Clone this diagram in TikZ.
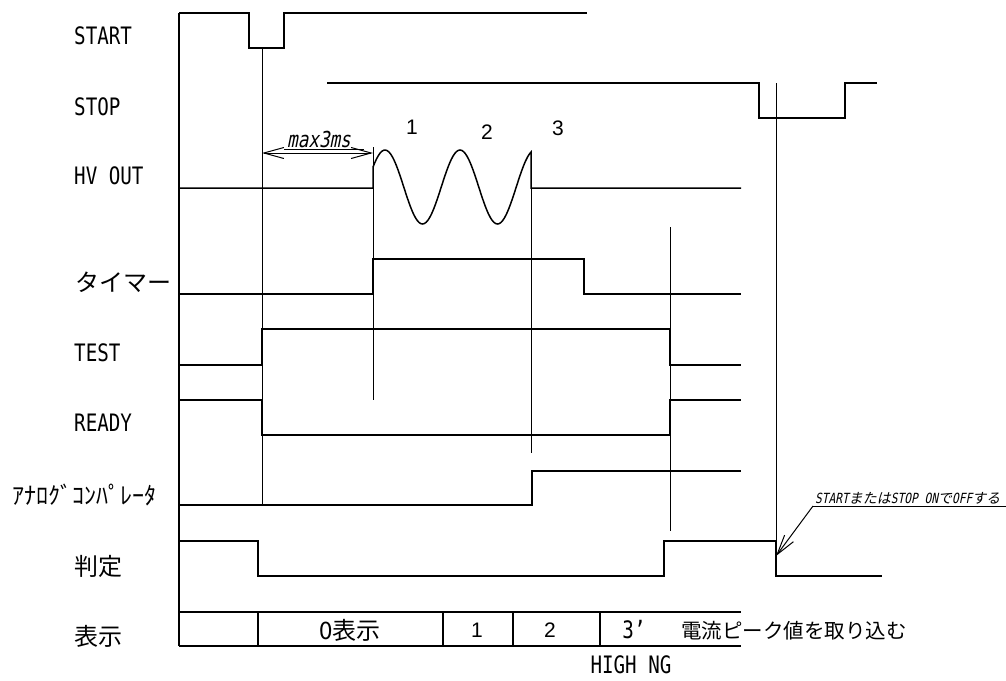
\documentclass[tikz,border=0pt]{standalone}
\usepackage{fontspec}
\setmainfont{Liberation Sans}
\newfontfamily\jpfont{Noto Sans CJK JP}
\newfontfamily\jpitfont[FakeSlant=0.2]{Noto Sans CJK JP}
\newfontfamily\gothfont[FakeStretch=0.8]{DejaVu Sans Mono}
\newfontfamily\gothitfont[FakeStretch=0.8,FakeSlant=0.2]{DejaVu Sans Mono}
\usetikzlibrary{arrows.meta}

\tikzset{
    sig/.style={line width=1.5pt, line join=miter},
    guide/.style={line width=1pt},
    barb/.style={{Straight Barb[length=20pt,width=11pt]}-{Straight Barb[length=20pt,width=11pt]}},
    lbl/.style={anchor=west, inner sep=0pt, font=\gothfont\fontsize{24}{24}\selectfont},
    jlbl/.style={anchor=west, inner sep=0pt, font=\jpfont\fontsize{24}{24}\selectfont},
    num/.style={inner sep=0pt, font=\fontsize{21}{21}\selectfont}
}

\begin{document}
\begin{tikzpicture}[x=1pt, y=-1pt]

            % the frame
            \useasboundingbox (0,0) rectangle (1006,680);

            % the names
            \node[lbl] (lblstart) at (74,36) {START};
            \node[lbl] (lblstop) at (74,107) {STOP};
            \node[lbl] (lblhv) at (74,176) {HV OUT};
            \node[jlbl] (lbltimer) at (75,282) {タイマー};
            \node[lbl] (lbltest) at (74,353) {TEST};
            \node[lbl] (lblready) at (74,423) {READY};
            \node[jlbl] (lblcomp) at (12,495) {ｱﾅﾛｸﾞｺﾝﾊﾟﾚｰﾀ};
            \node[jlbl] (lbljudge) at (74,566) {判定};
            \node[jlbl] (lbldisp) at (74,636) {表示};

            % the axis
            \draw[sig] (179,13) -- (179,646);

            % the signals
            \draw[sig] (179,13) -- (249,13) -- (249,48) -- (284,48) -- (284,13) -- (587,13);
            \draw[sig] (327,83) -- (759,83) -- (759,118) -- (845,118) -- (845,83) -- (877,83);
            \draw[sig] (179,188) -- (373,188) -- (373,166)
                plot[domain=373:531, samples=90, smooth] (\x, {187-37*cos((\x-385)*4.8)})
                -- (531,188) -- (741,188);
            \draw[sig] (179,294) -- (373,294) -- (373,259) -- (584,259) -- (584,294) -- (741,294);
            \draw[sig] (179,365) -- (262,365) -- (262,329) -- (670,329) -- (670,365) -- (741,365);
            \draw[sig] (179,400) -- (262,400) -- (262,435) -- (670,435) -- (670,400) -- (741,400);
            \draw[sig] (179,505) -- (532,505) -- (532,471) -- (741,471);
            \draw[sig] (179,541) -- (258,541) -- (258,576) -- (664,576) -- (664,541)
                -- (776,541) -- (776,576) -- (882,576);

            % the display row
            \draw[sig] (179,612) -- (741,612);
            \draw[sig] (179,646) -- (741,646);
            \foreach \x in {258,443,513,600} {
                \draw[sig] (\x,612) -- (\x,646);
            };

            % the guides
            \draw[guide] (262,48) -- (262,505);
            \draw[guide] (373,147) -- (373,400);
            \draw[guide] (531,153) -- (531,453);
            \draw[guide] (670,227) -- (670,531);
            \draw[guide] (776,83) -- (776,541);

            % max 3ms
            \coordinate (dimleft) at (262,153);
            \coordinate (dimright) at (373,153);
            \draw[guide, barb] (dimleft) -- (dimright);
            \node[inner sep=0pt, anchor=south, font=\gothitfont\fontsize{22}{22}\selectfont] (maxtime) at (319,148) {max3ms};
            \draw[guide] (maxtime.south west) ++(-3,1) -- ++(80,0);

            % wave numbers
            \node[num] (wave1) at (412,127) {1};
            \node[num] (wave2) at (487,132) {2};
            \node[num] (wave3) at (558,128) {3};

            % display texts
            \node[jlbl, anchor=center] (dispzero) at (350,630) {0表示};
            \node[num] (dispone) at (477,630) {1};
            \node[num] (disptwo) at (550,630) {2};
            \node[lbl, anchor=center] (dispthree) at (634,630) {3’};
            \node[jlbl, anchor=west, font=\jpfont\fontsize{20.5}{20.5}\selectfont] (peak) at (681,631) {電流ピーク値を取り込む};
            \node[lbl, anchor=center] (highng) at (631,665) {HIGH NG};

            % the note
            \node[inner sep=0pt, anchor=south west, font=\jpitfont\fontsize{14}{14}\selectfont] (note) at (815,504)
                {{\gothitfont START}または{\gothitfont STOP ON}で{\gothitfont OFF}する};
            \coordinate (noteend) at (1006,506);
            \coordinate (judgeoff) at (776,556);
            \draw[guide] (813,506) -- (noteend);
            \draw[guide, -{Straight Barb[length=20pt,width=11pt]}] (813,506) -- (judgeoff);

\end{tikzpicture}
\end{document}
